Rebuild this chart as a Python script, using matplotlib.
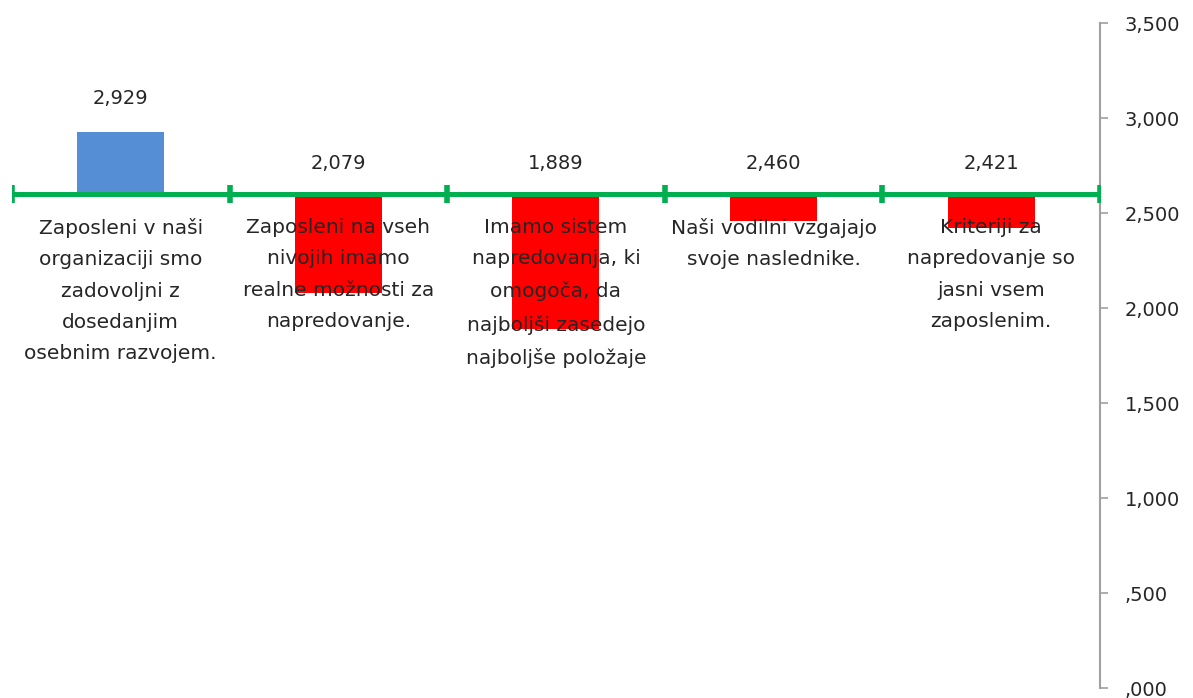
import numpy as np
import matplotlib
matplotlib.use("Agg")
import matplotlib.pyplot as plt

# data (values in thousands, shown with a comma as decimal sign)
categories = [
    "Zaposleni v naši\norganizaciji smo\nzadovoljni z\ndosedanjim\nosebnim razvojem.",
    "Zaposleni na vseh\nnivojih imamo\nrealne možnosti za\nnapredovanje.",
    "Imamo sistem\nnapredovanja, ki\nomogoča, da\nnajboljši zasedejo\nnajboljše položaje",
    "Naši vodilni vzgajajo\nsvoje naslednike.",
    "Kriteriji za\nnapredovanje so\njasni vsem\nzaposlenim.",
]
values = [2.929, 2.079, 1.889, 2.460, 2.421]
value_labels = ["2,929", "2,079", "1,889", "2,460", "2,421"]
baseline = 2.6
y_ticks = [0, 0.5, 1.0, 1.5, 2.0, 2.5, 3.0, 3.5]
y_tick_labels = [",000", ",500", "1,000", "1,500", "2,000", "2,500", "3,000", "3,500"]

plt.rcParams['font.family'] = ['DejaVu Sans']

fig = plt.figure(figsize=(11.93, 6.98), dpi=100)
ax = fig.add_axes([0.01, 0.0143, 0.912, 0.9527])

x = np.arange(len(values))
colors = ["#558ED5" if v >= baseline else "#FF0000" for v in values]
heights = [v - baseline for v in values]
ax.bar(x, heights, bottom=baseline, width=0.4, color=colors, zorder=2)

# horizontal green axis line at the baseline with category tick marks
ax.plot([-0.5, len(values) - 0.5], [baseline, baseline], color="#00B050", lw=3.6, zorder=3,
        solid_capstyle="butt")
bounds = np.arange(len(values) + 1) - 0.5
ax.plot(bounds, [baseline] * len(bounds), ls="none", marker="|", ms=13, mew=4,
        color="#00B050", zorder=3)

for i, v in enumerate(values):
    top = max(v, baseline)
    off = 17 if v >= baseline else 15
    ax.annotate(value_labels[i], (i, top), xytext=(0, off), textcoords="offset points",
                ha="center", va="bottom", fontsize=14, color="#262626", zorder=5)
    ax.annotate(categories[i], (i, baseline), xytext=(0, -17), textcoords="offset points",
                ha="center", va="top", fontsize=14.5, color="#262626", linespacing=1.83,
                zorder=5)

ax.set_xlim(-0.5, len(values) - 0.5)
ax.set_ylim(0, 3.5)
ax.yaxis.tick_right()
ax.set_yticks(y_ticks)
ax.set_yticklabels(y_tick_labels, fontsize=14, color="#262626")
ax.tick_params(axis="y", direction="out", length=6, color="#A0A0A0", width=1.2, pad=12)
ax.set_xticks([])
for s in ["top", "left", "bottom"]:
    ax.spines[s].set_visible(False)
ax.spines["right"].set_color("#A0A0A0")
ax.spines["right"].set_linewidth(1.5)

fig.savefig("out.png", dpi=100)
